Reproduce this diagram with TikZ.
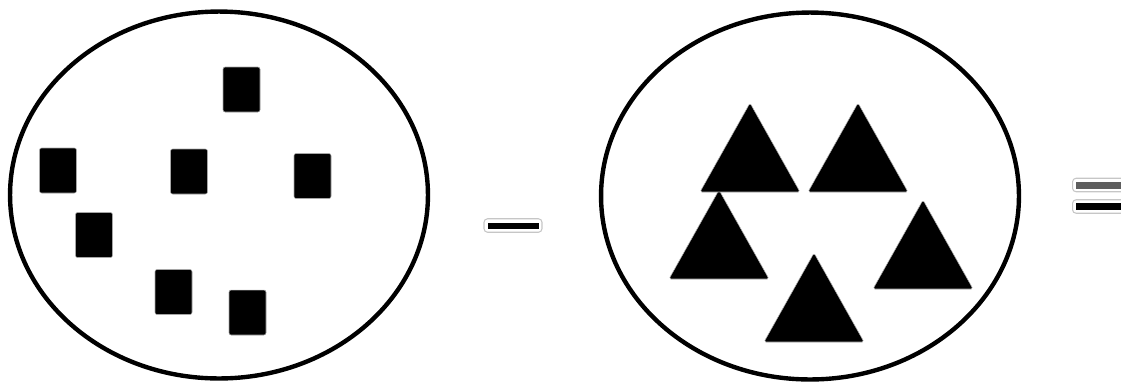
\documentclass[tikz,border=0pt]{standalone}
\usepackage{xcolor}
\usepackage{tikz}
\usetikzlibrary{shapes.geometric}
\definecolor{bargray}{HTML}{5E5E5E}

\begin{document}
\begin{tikzpicture}[x=0.02cm,y=-0.02cm,
  setring/.style={ellipse,draw=black,line width=2.5pt,minimum width=8.36cm,minimum height=7.34cm,inner sep=0pt},
  sq/.style={rectangle,fill=black,draw=gray!70,line width=0.3pt,rounded corners=1.2pt,minimum width=0.74cm,minimum height=0.9cm,inner sep=0pt},
  tri/.style={fill=black,draw=gray!60,line width=0.3pt,rounded corners=1pt},
  signbox/.style={rectangle,fill=white,draw=gray!45,line width=0.6pt,rounded corners=2pt,minimum width=1.16cm,minimum height=0.27cm,inner sep=0pt},
  signbar/.style={rectangle,minimum width=1.02cm,minimum height=0.13cm,inner sep=0pt}
]
\useasboundingbox (0,0) rectangle (1121,383);

% the two sets
\node[setring] (leftset) at (219,195) {};
\node[setring] (rightset) at (810,196) {};

% squares in the left set
\node[sq] (sqa) at (241.5,89.5) {};
\node[sq] (sqb) at (58,170.5) {};
\node[sq] (sqc) at (189,171.5) {};
\node[sq] (sqd) at (312.5,176) {};
\node[sq] (sqe) at (94,235) {};
\node[sq] (sqf) at (173.5,292) {};
\node[sq] (sqg) at (247.5,312.5) {};

% triangles in the right set (apex x/y)
\foreach \ax/\ay in {719/190,750/103,858/103,923/200,814/253}
  \draw[tri] (\ax-50,\ay+89) -- (\ax,\ay) -- (\ax+50,\ay+89) -- cycle;

% minus sign
\node[signbox] (minusbox) at (513,225.5) {};
\node[signbar,fill=black] (minusbar) at (513.5,226) {};

% equals sign, cut by the right edge
\node[signbox,anchor=west] (eqtopbox) at (1072,185) {};
\node[signbar,fill=bargray,anchor=west] (eqtop) at (1076,185.5) {};
\node[signbox,anchor=west] (eqbotbox) at (1072,206.5) {};
\node[signbar,fill=black,anchor=west] (eqbot) at (1076,206.5) {};
\end{tikzpicture}
\end{document}
